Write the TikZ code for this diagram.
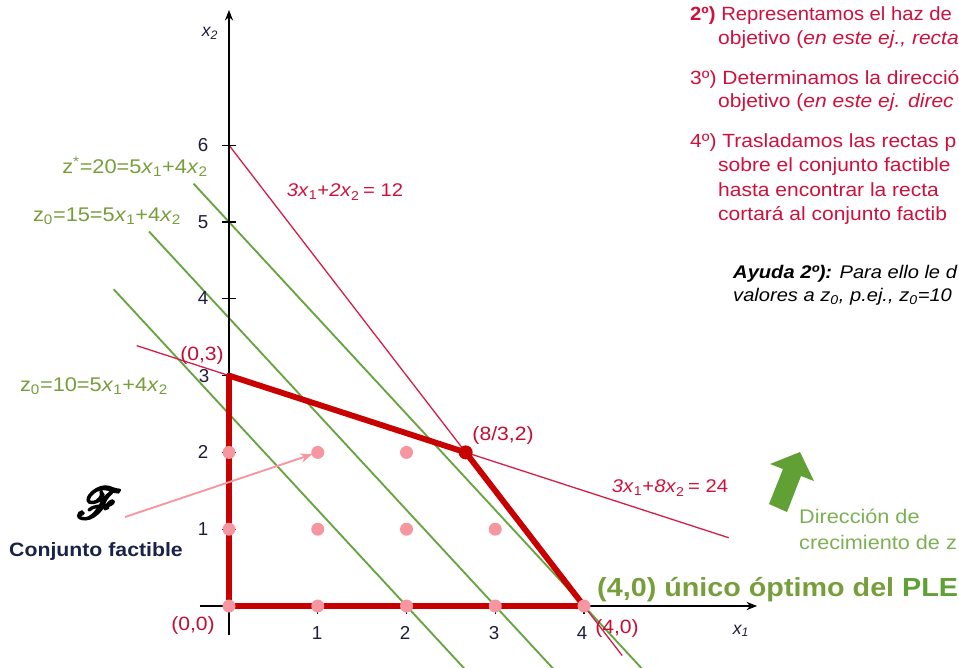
\documentclass[tikz,border=0pt]{standalone}
\usepackage{fontspec}
\setmainfont{Liberation Sans}
\usepackage{mathrsfs}
\usepackage{graphicx}
\usetikzlibrary{arrows.meta}
\definecolor{redtxt}{RGB}{208,16,60}
\definecolor{ptred}{RGB}{196,14,50}
\definecolor{polyred}{RGB}{200,0,0}
\definecolor{linered}{RGB}{212,28,70}
\definecolor{pinkdot}{RGB}{246,150,160}
\definecolor{greenline}{RGB}{104,165,66}
\definecolor{greentxt}{RGB}{118,158,58}
\definecolor{arrowgreen}{RGB}{96,160,52}
\definecolor{lightgreen}{RGB}{125,176,84}
\definecolor{numcol}{RGB}{30,30,60}
\definecolor{navy}{RGB}{25,35,70}
\newcommand{\xs}[1]{\textit{x}\textsubscript{#1}}
\newcommand{\sx}[1]{\scalebox{1.1}[1]{#1}}
\newcommand{\heavyglyph}[1]{\special{pdf:literal direct 2 Tr 1.4 w}#1\special{pdf:literal direct 0 Tr 0 w}}
\begin{document}
\begin{tikzpicture}[x=0.03cm,y=-0.03cm,
  ticklab/.style={font=\fontsize{16}{18}\selectfont, text=numcol, inner sep=0pt},
  ptlab/.style={font=\fontsize{16.4}{18}\selectfont, text=ptred, inner sep=0pt},
  zlab/.style={font=\fontsize{16.9}{19}\selectfont, text=greentxt, inner sep=0pt},
  rlab/.style={font=\fontsize{15.7}{18}\selectfont, text=redtxt, inner sep=0pt},
  toptxt/.style={font=\fontsize{16.3}{20}\selectfont, text=redtxt, anchor=base west, inner sep=0pt},
  helptxt/.style={font=\fontsize{15.6}{20}\selectfont\itshape, text=black, anchor=base west, inner sep=0pt},
  zline/.style={draw=greenline, line width=1.6pt},
  rline/.style={draw=linered, line width=1.1pt},
  polyline/.style={draw=polyred, line width=5pt, line join=round},
  axisline/.style={draw=black, line width=1.1pt},
  dotp/.style={fill=pinkdot},
]
\useasboundingbox (0,0) rectangle (959,667);
\clip (0,0) rectangle (959,667);

\begin{scope}[shift={(229,606)}, x=2.6625cm, y=2.304cm]
  \coordinate (O) at (0,0);
  \coordinate (A) at (0,3);
  \coordinate (B) at (8/3,2);
  \coordinate (C) at (4,0);
  \coordinate (r1s) at (0,6);
  \coordinate (r1e) at (4.43,-0.645);
  \coordinate (r2s) at (-1.04,3.39);
  \coordinate (r2e) at (5.63,0.889);
  \coordinate (g20s) at (-0.4,5.5);
  \coordinate (g20e) at (4.8,-1);
  \coordinate (g15s) at (-0.9,4.875);
  \coordinate (g15e) at (3.8,-1);
  \coordinate (g10s) at (-1.3,4.125);
  \coordinate (g10e) at (2.8,-1);
  \coordinate (xaxs) at (-0.33,0);
  \coordinate (xaxe) at (5.95,0);
  \coordinate (yaxs) at (0,-0.38);
  \coordinate (yaxe) at (0,7.76);
  \draw[zline] (g20s) -- (g20e);
  \draw[zline] (g15s) -- (g15e);
  \draw[zline] (g10s) -- (g10e);
  \draw[rline] (r1s) -- (r1e);
  \draw[rline] (r2s) -- (r2e);
  \draw[axisline, -{Stealth[length=9pt,width=7pt]}] (xaxs) -- (xaxe);
  \draw[axisline, -{Stealth[length=9pt,width=7pt]}] (yaxs) -- (yaxe);
  \foreach \k in {1,...,6} { \draw[axisline] (-0.08,\k) -- (0.08,\k); }
  \foreach \k in {1,...,4} { \draw[axisline] (\k,0) -- (\k,-0.11); }
  \draw[polyline] (O) -- (A) -- (B) -- (C) -- cycle;
  \foreach \i/\j in {0/0,1/0,2/0,3/0,4/0,0/1,1/1,2/1,3/1,0/2,1/2,2/2} {
    \fill[dotp] (\i,\j) circle[radius=6.5*0.03cm];
    \coordinate (d\i\j) at (\i,\j);
  }
  \fill[polyred] (B) circle[radius=7*0.03cm];
\end{scope}

% axis labels
\node[ticklab, font=\fontsize{15}{18}\selectfont\itshape] (lx2) at (210,33) {x\textsubscript{2}};
\node[ticklab, font=\fontsize{15}{18}\selectfont\itshape] (lx1) at (741,631) {x\textsubscript{1}};
\node[ticklab] (ty6) at (203,145) {6};
\node[ticklab] (ty5) at (203,222) {5};
\node[ticklab] (ty4) at (203,298) {4};
\node[ticklab] (ty3) at (204,376) {3};
\node[ticklab] (ty2) at (203,452) {2};
\node[ticklab] (ty1) at (203,529) {1};
\node[ticklab] (tx1) at (317,633) {1};
\node[ticklab] (tx2) at (405,633) {2};
\node[ticklab] (tx3) at (494,633) {3};
\node[ticklab] (tx4) at (582,633) {4};

% point labels
\node[ptlab] (l03) at (202,356) {\sx{(0,3)}};
\node[ptlab] (l832) at (503,436) {\sx{(8/3,2)}};
\node[ptlab] (l00) at (193,626) {\sx{(0,0)}};
\node[ptlab] (l40) at (617,629) {\sx{(4,0)}};

% constraint labels
\node[rlab] (c1) at (345,192) {\sx{\textit{3x}\textsubscript{1}+\textit{2x}\textsubscript{2}\,= 12}};
\node[rlab] (c2) at (670,488) {\sx{\textit{3x}\textsubscript{1}+\textit{8x}\textsubscript{2}\,= 24}};

% objective labels
\node[zlab] (z20) at (135,167) {\sx{z\textsuperscript{*}=20=5\xs{1}+4\xs{2}}};
\node[zlab] (z15) at (107,216) {\sx{z\textsubscript{0}=15=5\xs{1}+4\xs{2}}};
\node[zlab] (z10) at (94,386) {\sx{z\textsubscript{0}=10=5\xs{1}+4\xs{2}}};

% feasible set label
\node[inner sep=0pt, text=black] (Fs) at (99,503) {\fontsize{24.88}{27}\selectfont\scalebox{1.5}{\heavyglyph{$\mathscr{F}$}}};
\node[inner sep=0pt, font=\fontsize{16.5}{20}\selectfont\bfseries, text=navy] (cf) at (96,551) {\sx{Conjunto factible}};
\coordinate (fa) at (125,517);
\draw[draw=pinkdot, line width=1.6pt, -{Stealth[length=10pt,width=8pt]}, shorten >=5pt] (fa) -- (d12);

% growth direction arrow
\fill[arrowgreen] (769,504) -- (783,469) -- (770,464) -- (800,452) -- (814,481) -- (801,476) -- (787,512) -- cycle;
\node[anchor=base west, inner sep=0pt, font=\fontsize{16.8}{18}\selectfont, text=lightgreen] (dir1) at (799,523) {\sx{Dirección de}};
\node[anchor=base west, inner sep=0pt, font=\fontsize{16.8}{18}\selectfont, text=lightgreen] (dir2) at (799,549) {\sx{crecimiento de z}};

% optimum label
\node[anchor=base west, inner sep=0pt, font=\fontsize{22.3}{28}\selectfont\bfseries, text=greentxt] (opt) at (597,596) {\sx{(4,0) único óptimo del \textcolor{arrowgreen}{PLE}}};

% text block top right
\node[toptxt] (t1) at (690,20) {\scalebox{1.06}[1]{\textbf{2º)} Representamos el haz de}};
\node[toptxt] (t2) at (718,44) {\sx{objetivo (\textit{en este ej., recta}}};
\node[toptxt] (t3) at (690,84) {\sx{3º) Determinamos la direcció}};
\node[toptxt] (t4) at (718,107) {\sx{objetivo (\textit{en este ej. direc}}};
\node[toptxt] (t5) at (690,147) {\sx{4º) Trasladamos las rectas p}};
\node[toptxt] (t6) at (718,171) {\sx{sobre el conjunto factible}};
\node[toptxt] (t7) at (718,196) {\sx{hasta encontrar la recta}};
\node[toptxt] (t8) at (718,220) {\sx{cortará al conjunto factib}};
\node[helptxt] (t9) at (733,278) {\sx{\textbf{Ayuda 2º):} Para ello le d}};
\node[helptxt] (t10) at (733,301) {\sx{valores a z\textsubscript{0}, p.ej., z\textsubscript{0}=10}};
\end{tikzpicture}
\end{document}
